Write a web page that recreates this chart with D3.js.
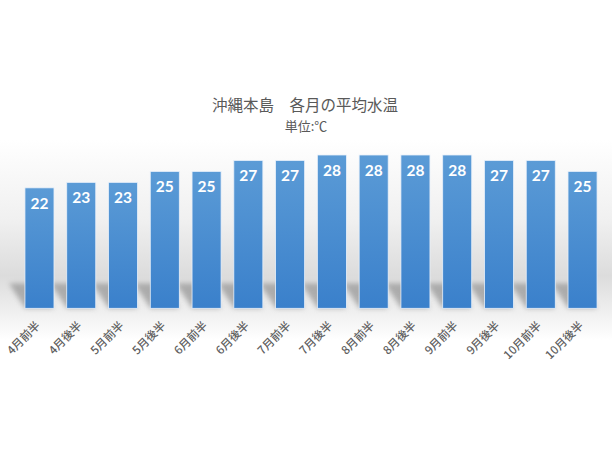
<!DOCTYPE html>
<html>
<head>
<meta charset="utf-8">
<script src="https://cdn.jsdelivr.net/npm/d3@7"></script>
<style>
  html, body { margin: 0; padding: 0; background: #fff; }
  svg { display: block; }
</style>
</head>
<body>
<svg id="chart" width="612" height="459"></svg>
<script>
const categories = ["4月前半","4月後半","5月前半","5月後半","6月前半","6月後半","7月前半","7月後半","8月前半","8月後半","9月前半","9月後半","10月前半","10月後半"];
const temps = [22, 23, 23, 25, 25, 27, 27, 28, 28, 28, 28, 27, 27, 25];
const titleText = "沖縄本島　各月の平均水温";
const subtitleText = "単位:℃";

const W = 612, H = 459;
const svg = d3.select("#chart");
const defs = svg.append("defs");

const bg = defs.append("linearGradient").attr("id", "bgGrad").attr("x1", 0).attr("y1", 0).attr("x2", 0).attr("y2", 1);
bg.append("stop").attr("offset", "0%").attr("stop-color", "#ffffff");
bg.append("stop").attr("offset", "40%").attr("stop-color", "#f0f0f0");
bg.append("stop").attr("offset", "68%").attr("stop-color", "#dcdcdc");
bg.append("stop").attr("offset", "82%").attr("stop-color", "#ebebeb");
bg.append("stop").attr("offset", "100%").attr("stop-color", "#ffffff");

const barGrad = defs.append("linearGradient").attr("id", "barGrad").attr("x1", 0).attr("y1", 0).attr("x2", 0).attr("y2", 1);
barGrad.append("stop").attr("offset", "0%").attr("stop-color", "#5b9bd6");
barGrad.append("stop").attr("offset", "100%").attr("stop-color", "#3a80cb");

const blur = defs.append("filter").attr("id", "shadowBlur").attr("x", "-50%").attr("y", "-50%").attr("width", "200%").attr("height", "200%");
blur.append("feGaussianBlur").attr("stdDeviation", 2.5);

svg.append("rect").attr("x", 0).attr("y", 140).attr("width", W).attr("height", 200).attr("fill", "url(#bgGrad)");

const x = d3.scaleBand().domain(categories).range([18.6, 603.4]).paddingInner(0.305).paddingOuter(0.152);
const y = d3.scaleLinear().domain([0, 28]).range([308.3, 155]);

// shadows
svg.append("g").selectAll("path").data(categories).join("path")
  .attr("d", (c) => {
    const x0 = x(c), x1 = x(c) + x.bandwidth(), yb = y(0), d = 16, h = 25;
    return `M${x0},${yb} L${x1},${yb} L${x1 - d},${yb - h} L${x0 - d},${yb - h} Z`;
  })
  .attr("fill", "#868686")
  .attr("opacity", 0.6)
  .attr("filter", "url(#shadowBlur)");

// bars
svg.append("g").selectAll("rect").data(temps).join("rect")
  .attr("x", (d, i) => x(categories[i]))
  .attr("y", d => y(d))
  .attr("width", x.bandwidth())
  .attr("height", d => y(0) - y(d))
  .attr("fill", "url(#barGrad)")
  .attr("stroke", "#e8f0fa")
  .attr("stroke-width", 0.8);

// value labels
svg.append("g").selectAll("text").data(temps).join("text")
  .attr("x", (d, i) => x(categories[i]) + x.bandwidth() / 2)
  .attr("y", d => y(d) + 21)
  .attr("text-anchor", "middle")
  .attr("font-family", "Lato, 'Open Sans', sans-serif")
  .attr("font-weight", "bold")
  .attr("font-size", 15.5)
  .attr("fill", "#ffffff")
  .text(d => d);

// x-axis labels
const xAxis = d3.axisBottom(x).tickSize(0).tickPadding(0);
const gx = svg.append("g").attr("transform", `translate(0, ${y(0)})`).call(xAxis);
gx.select(".domain").remove();
gx.selectAll("text")
  .attr("font-family", "'Noto Sans CJK JP', sans-serif")
  .attr("font-size", 11.5)
  .attr("font-weight", 500)
  .attr("fill", "#5f5f5f")
  .attr("text-anchor", "end")
  .attr("dy", null)
  .attr("y", 0)
  .attr("transform", "translate(1.5, 18) rotate(-45)");

// title
svg.append("text").attr("x", 305).attr("y", 111).attr("text-anchor", "middle")
  .attr("font-family", "'Noto Sans CJK JP', sans-serif").attr("font-size", 15.5)
  .attr("fill", "#595959").text(titleText);
svg.append("text").attr("x", 306).attr("y", 131).attr("text-anchor", "middle")
  .attr("font-family", "'Noto Sans CJK JP', sans-serif").attr("font-size", 13)
  .attr("fill", "#595959").text(subtitleText);
</script>
</body>
</html>
